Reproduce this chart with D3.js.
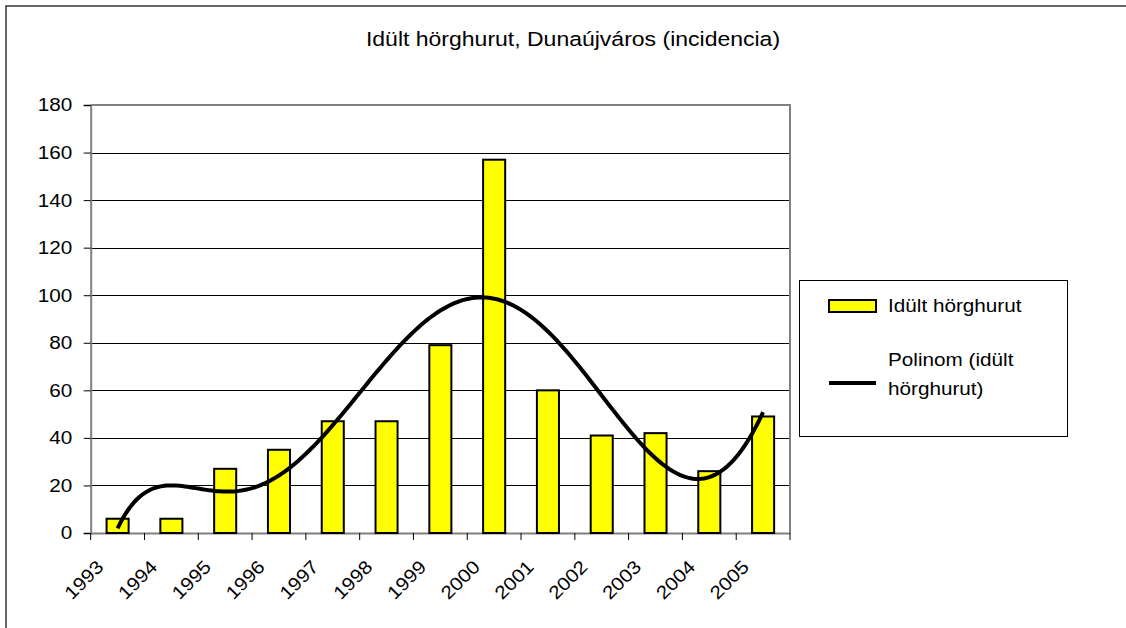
<!DOCTYPE html>
<html lang="hu">
<head>
    <meta charset="UTF-8">
    <title>Idült hörghurut</title>
    <style>
        body { margin: 0; background: #fff; }
        text { font-family: "Liberation Sans", Arial, sans-serif; fill: #000; }
    </style>
</head>
<body>
<svg id="chart"></svg>
<script src="https://cdnjs.cloudflare.com/ajax/libs/d3/7.8.5/d3.min.js"></script>
<script>
    var width = 1126;
    var height = 628;

    // data
    var years = ["1993", "1994", "1995", "1996", "1997", "1998", "1999",
                 "2000", "2001", "2002", "2003", "2004", "2005"];
    var cases = [6, 6, 27, 35, 47, 47, 79, 157, 60, 41, 42, 26, 49];
    var yTicks = [0, 20, 40, 60, 80, 100, 120, 140, 160, 180];
    var title = "Idült hörghurut, Dunaújváros (incidencia)";
    var seriesName = "Idült hörghurut";
    var trendName = ["Polinom (idült", "hörghurut)"];
    var trendOrder = 6;

    var plot = {left: 90.7, right: 790, top: 105, bottom: 533};
    var stretch = 1.12;   // the original text is a bit wider than Arial

    var svg = d3.select("#chart")
        .attr("width", width)
        .attr("height", height);

    // outer frame (only top and left edges are visible)
    svg.append("path")
        .attr("d", "M6," + height + "V6H" + width)
        .attr("fill", "none")
        .attr("stroke", "#333")
        .attr("stroke-width", 1.5);

    var x = d3.scaleBand()
        .domain(years)
        .range([plot.left, plot.right])
        .padding(0);

    var y = d3.scaleLinear()
        .domain([0, 180])
        .range([plot.bottom, plot.top]);

    // index (1..n) -> pixel, to draw the trend line on the same category axis
    var xi = d3.scaleLinear()
        .domain([1, years.length])
        .range([x(years[0]) + x.bandwidth() / 2,
                x(years[years.length - 1]) + x.bandwidth() / 2]);

    // title
    svg.append("text")
        .attr("transform", "translate(573,46) scale(1.18,1)")
        .attr("text-anchor", "middle")
        .style("font-size", "19.5px")
        .text(title);

    // gridlines
    svg.append("g")
        .selectAll("line")
        .data(yTicks.filter(function(d) { return d > 0 && d < 180; }))
        .enter()
        .append("line")
        .attr("x1", plot.left)
        .attr("x2", plot.right)
        .attr("y1", function(d) { return Math.round(y(d)) + 0.5; })
        .attr("y2", function(d) { return Math.round(y(d)) + 0.5; })
        .attr("stroke", "#000")
        .attr("stroke-width", 1);

    // plot area border (top / right)
    svg.append("path")
        .attr("d", "M" + plot.left + "," + plot.top + "H" + plot.right + "V" + plot.bottom)
        .attr("fill", "none")
        .attr("stroke", "#808080")
        .attr("stroke-width", 2);

    // y axis
    var yAxis = d3.axisLeft(y)
        .tickValues(yTicks)
        .tickSize(7)
        .tickPadding(11);
    var gy = svg.append("g")
        .attr("transform", "translate(" + plot.left + ",0)")
        .call(yAxis);
    gy.select(".domain").attr("stroke", "#808080").attr("stroke-width", 2);
    gy.selectAll(".tick line").attr("stroke", "#000");
    gy.selectAll(".tick text")
        .style("font-size", "18.5px")
        .attr("x", 0)
        .attr("transform", "translate(-18.5,0) scale(" + stretch + ",1)");

    // x axis: ticks between categories
    var xAxis = d3.axisBottom(x).tickSize(0).tickFormat("");
    var gx = svg.append("g")
        .attr("transform", "translate(0," + plot.bottom + ")")
        .call(xAxis);
    gx.select(".domain").attr("stroke", "#808080").attr("stroke-width", 2);
    gx.selectAll(".tick").remove();

    var bounds = years.map(function(d) { return x(d); }).concat([plot.right]);
    gx.selectAll(".sep")
        .data(bounds)
        .enter()
        .append("line")
        .attr("class", "sep")
        .attr("x1", function(d) { return d; })
        .attr("x2", function(d) { return d; })
        .attr("y1", 0)
        .attr("y2", 7)
        .attr("stroke", "#000");

    gx.selectAll(".lbl")
        .data(years)
        .enter()
        .append("text")
        .attr("class", "lbl")
        .attr("text-anchor", "end")
        .style("font-size", "18.5px")
        .attr("transform", function(d) {
            var cx = x(d) + x.bandwidth() / 2 - 13;
            return "translate(" + cx + ",35) rotate(-45) scale(" + stretch + ",1)";
        })
        .text(function(d) { return d; });

    // bars
    var barW = x.bandwidth() * 0.41;
    svg.append("g")
        .selectAll("rect")
        .data(cases)
        .enter()
        .append("rect")
        .attr("x", function(d, i) { return x(years[i]) + (x.bandwidth() - barW) / 2; })
        .attr("y", function(d) { return y(d); })
        .attr("width", barW)
        .attr("height", function(d) { return y(0) - y(d); })
        .attr("fill", "#ffff00")
        .attr("stroke", "#000")
        .attr("stroke-width", 2);

    // polynomial trendline (least squares, like the spreadsheet's trendline)
    function polyFit(xs, ys, order) {
        var m = order + 1;
        var A = [], b = [];
        for (var r = 0; r < m; r++) {
            A.push(new Array(m).fill(0));
            b.push(0);
        }
        xs.forEach(function(xv, k) {
            for (var r = 0; r < m; r++) {
                b[r] += ys[k] * Math.pow(xv, r);
                for (var c = 0; c < m; c++) A[r][c] += Math.pow(xv, r + c);
            }
        });
        // gaussian elimination
        for (var p = 0; p < m; p++) {
            var best = p;
            for (var r = p + 1; r < m; r++) if (Math.abs(A[r][p]) > Math.abs(A[best][p])) best = r;
            var t = A[p]; A[p] = A[best]; A[best] = t;
            var tb = b[p]; b[p] = b[best]; b[best] = tb;
            for (var r = p + 1; r < m; r++) {
                var f = A[r][p] / A[p][p];
                for (var c = p; c < m; c++) A[r][c] -= f * A[p][c];
                b[r] -= f * b[p];
            }
        }
        var coef = new Array(m).fill(0);
        for (var r = m - 1; r >= 0; r--) {
            var s = b[r];
            for (var c = r + 1; c < m; c++) s -= A[r][c] * coef[c];
            coef[r] = s / A[r][r];
        }
        return coef;
    }

    // centred / scaled x for a well-conditioned fit
    var mid = (years.length + 1) / 2;
    var half = (years.length - 1) / 2;
    var xs = cases.map(function(d, i) { return (i + 1 - mid) / half; });
    var coef = polyFit(xs, cases, trendOrder);
    function trend(i) {
        var u = (i - mid) / half;
        return coef.reduce(function(s, c, k) { return s + c * Math.pow(u, k); }, 0);
    }
    var trendPts = d3.range(1, years.length + 0.001, 0.05);

    var line = d3.line()
        .x(function(d) { return xi(d); })
        .y(function(d) { return y(trend(d)); });

    svg.append("path")
        .datum(trendPts)
        .attr("d", line)
        .attr("fill", "none")
        .attr("stroke", "#000")
        .attr("stroke-width", 4);

    // legend
    var lg = svg.append("g");
    lg.append("rect")
        .attr("x", 799.5).attr("y", 280.5)
        .attr("width", 268).attr("height", 156)
        .attr("fill", "#fff")
        .attr("stroke", "#000");
    lg.append("rect")
        .attr("x", 829).attr("y", 300)
        .attr("width", 47).attr("height", 12)
        .attr("fill", "#ffff00")
        .attr("stroke", "#000")
        .attr("stroke-width", 2);
    lg.append("text")
        .attr("transform", "translate(888,312) scale(" + stretch + ",1)")
        .style("font-size", "18.5px")
        .text(seriesName);
    lg.append("line")
        .attr("x1", 829).attr("x2", 876)
        .attr("y1", 383).attr("y2", 383)
        .attr("stroke", "#000")
        .attr("stroke-width", 4);
    lg.selectAll(".tl")
        .data(trendName)
        .enter()
        .append("text")
        .attr("class", "tl")
        .attr("transform", function(d, i) {
            return "translate(888," + (366 + i * 29) + ") scale(" + stretch + ",1)";
        })
        .style("font-size", "18.5px")
        .text(function(d) { return d; });
</script>
</body>
</html>
